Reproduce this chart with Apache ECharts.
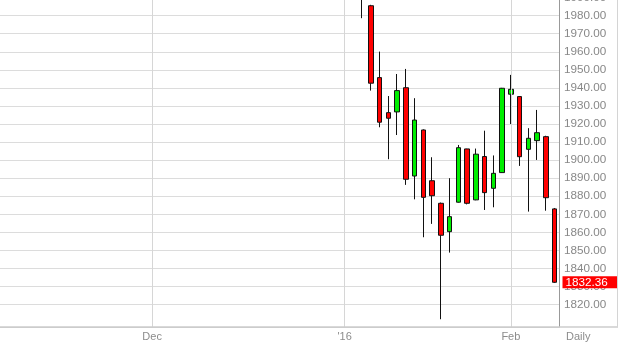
<!DOCTYPE html>
<html>
<head>
<meta charset="utf-8">
<style>
html,body{margin:0;padding:0;background:#fff;}
#chart{width:618px;height:343px;}
</style>
<script src="https://cdn.jsdelivr.net/npm/echarts@6/dist/echarts.min.js"></script>
</head>
<body>
<div id="chart"></div>
<script>
// Trading days shown on the x axis
const categories = [
  '2015-11-05','2015-11-06','2015-11-09','2015-11-10','2015-11-11','2015-11-12','2015-11-13',
  '2015-11-16','2015-11-17','2015-11-18','2015-11-19','2015-11-20','2015-11-23','2015-11-24',
  '2015-11-25','2015-11-27','2015-11-30',
  '2015-12-01','2015-12-02','2015-12-03','2015-12-04','2015-12-07','2015-12-08','2015-12-09',
  '2015-12-10','2015-12-11','2015-12-14','2015-12-15','2015-12-16','2015-12-17','2015-12-18',
  '2015-12-21','2015-12-22','2015-12-23','2015-12-24','2015-12-28','2015-12-29','2015-12-30','2015-12-31',
  '2016-01-04','2016-01-05','2016-01-06','2016-01-07','2016-01-08','2016-01-11','2016-01-12',
  '2016-01-13','2016-01-14','2016-01-15','2016-01-19','2016-01-20','2016-01-21','2016-01-22',
  '2016-01-25','2016-01-26','2016-01-27','2016-01-28','2016-01-29',
  '2016-02-01','2016-02-02','2016-02-03','2016-02-04','2016-02-05','2016-02-08'
];

// Candles visible in the picture, starting at this date
const firstCandleDate = '2016-01-06';
const openVals  = [2011, 1985.5, 1945.7, 1926.3, 1926.7, 1940.1, 1891.2, 1916.7, 1888.6, 1876.1, 1860.4, 1876.7, 1906.2, 1878.0, 1902.0, 1884.4, 1893.1, 1936.5, 1935.2, 1906.0, 1910.8, 1913.0, 1873.0];
const closeVals = [1991, 1942.6, 1921.0, 1923.2, 1938.5, 1889.4, 1922.2, 1879.4, 1880.3, 1858.4, 1868.7, 1906.9, 1876.1, 1903.3, 1882.0, 1892.7, 1939.8, 1939.2, 1901.9, 1912.1, 1915.2, 1879.2, 1832.36];
const lowVals   = [1978.6, 1938.5, 1918.2, 1900.5, 1913.9, 1886.3, 1878.3, 1857.3, 1864.7, 1811.9, 1848.8, 1876.5, 1875.5, 1877.8, 1872.4, 1873.9, 1893.0, 1920.0, 1896.8, 1871.5, 1900.1, 1872.0, 1832.0];
const highVals  = [2012, 1986.0, 1960.1, 1935.5, 1947.7, 1950.5, 1934.3, 1917.0, 1901.6, 1876.5, 1890.0, 1908.4, 1906.3, 1906.4, 1916.3, 1902.6, 1940.0, 1947.2, 1935.5, 1917.7, 1927.8, 1913.5, 1873.5];

// Axis tick labels
const tickDates = ['2015-12-01', '2016-01-04', '2016-02-01'];
const tickTexts = ['Dec', "'16", 'Feb'];
const lastPrice = 1832.36;
const yMin = 1807.6, yMax = 1990;

const start = categories.indexOf(firstCandleDate);
const candleData = categories.map((d, i) => {
  const k = i - start;
  if (k < 0 || k >= openVals.length) return '-';
  return [openVals[k], closeVals[k], lowVals[k], highVals[k]];
});

const gridColor = '#dcdcdc';
const splitColors = [];
for (let v = 0; v < 20; v++) splitColors.push(v === 1 ? 'rgba(0,0,0,0)' : gridColor);

const isRound10 = v => Math.abs(v - Math.round(v)) < 1e-6 && Math.round(v) % 10 === 0;

const chart = echarts.init(document.getElementById('chart'), null, {renderer: 'canvas'});
chart.setOption({
  animation: false,
  backgroundColor: '#ffffff',
  grid: {left: -1, right: 59, top: -2.4, bottom: 16, containLabel: false, outerBoundsMode: 'none'},
  xAxis: {
    type: 'category',
    data: categories,
    boundaryGap: true,
    axisLine: {show: true, lineStyle: {color: '#cccccc', width: 1}},
    axisTick: {show: false},
    splitLine: {show: false},
    axisLabel: {
      interval: (idx, val) => tickDates.indexOf(val) >= 0,
      formatter: val => { const i = tickDates.indexOf(val); return i >= 0 ? tickTexts[i] : ''; },
      color: '#8c8c8c',
      fontFamily: 'Liberation Sans, Arial, sans-serif',
      fontSize: 11,
      margin: 4
    }
  },
  yAxis: {
    type: 'value',
    position: 'right',
    min: yMin,
    max: yMax,
    minInterval: 10,
    maxInterval: 10,
    splitNumber: 18,
    axisLine: {show: true, lineStyle: {color: '#999999', width: 1}},
    axisTick: {show: false},
    splitLine: {show: true, lineStyle: {color: splitColors, width: 1}},
    axisLabel: {
      showMinLabel: false,
      formatter: v => (v >= 1815 && isRound10(v)) ? Math.round(v).toFixed(2) : '',
      color: '#888888',
      fontFamily: 'Liberation Sans, Arial, sans-serif',
      fontSize: 11.7,
      margin: 5
    }
  },
  series: [
    {
      type: 'line',
      data: [],
      z: 1,
      silent: true,
      clip: false,
      markLine: {
        silent: true,
        symbol: ['none', 'none'],
        label: {show: false},
        lineStyle: {color: '#d6d6d6', width: 1, type: 'solid'},
        data: tickDates.map(d => ({xAxis: d}))
      }
    },
    {
      type: 'candlestick',
      data: candleData,
      z: 3,
      clip: true,
      barWidth: 5,
      itemStyle: {
        color: '#00ee00',
        color0: '#ff0000',
        borderColor: '#111111',
        borderColor0: '#111111',
        borderWidth: 1
      }
    },
    {
      type: 'line',
      data: [],
      z: 5,
      silent: true,
      clip: false,
      markLine: {
        silent: true,
        symbol: ['none', 'none'],
        lineStyle: {color: 'rgba(255,0,0,0)', width: 1, type: 'solid'},
        label: {
          show: true,
          position: 'end',
          distance: 3.5,
          formatter: '1832.36',
          color: '#ffffff',
          backgroundColor: '#ff0000',
          fontFamily: 'Liberation Sans, Arial, sans-serif',
          fontSize: 11.7,
          lineHeight: 12,
          padding: [0, 10, 0, 3]
        },
        data: [{yAxis: lastPrice, label: {formatter: lastPrice.toFixed(2)}}]
      }
    }
  ],
  graphic: [
    {type: 'line', shape: {x1: 0, y1: 327, x2: 618, y2: 327}, style: {stroke: '#cccccc', lineWidth: 1.5}, z: 10},
    {type: 'line', shape: {x1: 617.5, y1: 0, x2: 617.5, y2: 327}, style: {stroke: '#d4d4d4', lineWidth: 1}, z: 10},
    {type: 'text', left: 566, top: 331, style: {text: 'Daily', fill: '#8c8c8c', font: '11px "Liberation Sans", Arial, sans-serif'}, z: 10}
  ]
});
</script>
</body>
</html>
